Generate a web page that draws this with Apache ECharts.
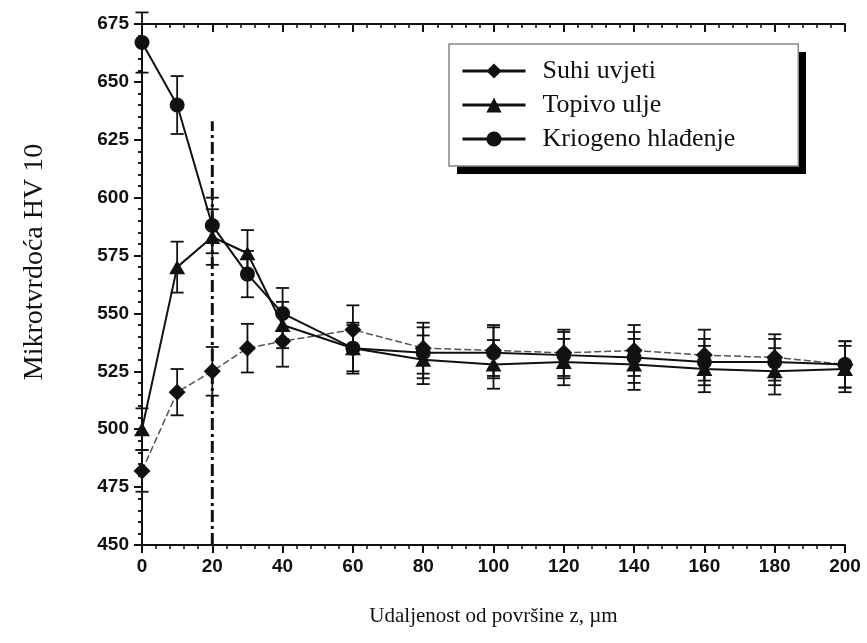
<!DOCTYPE html>
<html>
<head>
<meta charset="utf-8">
<script src="https://cdn.jsdelivr.net/npm/echarts@6/dist/echarts.min.js"></script>
<style>html,body{margin:0;padding:0;background:#fff;}#chart{width:867px;height:643px;}</style>
</head>
<body>
<div id="chart"></div>
<script>
// ---- data ----
const xValues = [0, 10, 20, 30, 40, 60, 80, 100, 120, 140, 160, 180, 200];
const seriesNames = ['Suhi uvjeti', 'Topivo ulje', 'Kriogeno hlađenje'];
const suhi = [482, 516, 525, 535, 538, 543, 535, 534, 533, 534, 532, 531, 528];
const suhiErr = [9, 10, 10.5, 10.5, 11, 10.5, 11, 11, 10, 11, 11, 10, 10];
const topivo = [500, 570, 583, 576, 545, 535, 530, 528, 529, 528, 526, 525, 526];
const topivoErr = [9, 11, 12, 10, 10, 10, 10.5, 10.5, 10, 11, 10, 10, 10];
const kriogeno = [667, 640, 588, 567, 550, 535, 533, 533, 532, 531, 529, 529, 528];
const kriogenoErr = [13, 12.5, 12, 10, 11, 11, 11, 11, 10, 11, 10, 10, 10];
const refLineX = 20;
const refLineTop = 633;
const xTitle = 'Udaljenost od površine z, µm';
const yTitle = 'Mikrotvrdoća HV 10';

const pairs = (vals) => xValues.map((x, i) => [x, vals[i]]);
const errData = (vals, errs) => xValues.map((x, i) => [x, vals[i] - errs[i], vals[i] + errs[i]]);

function errRender(params, api) {
  const x = api.value(0);
  const lo = api.coord([x, api.value(1)]);
  const hi = api.coord([x, api.value(2)]);
  const w = 6.5;
  const st = { stroke: '#111', lineWidth: 1.8 };
  return {
    type: 'group',
    children: [
      { type: 'line', shape: { x1: lo[0], y1: lo[1], x2: hi[0], y2: hi[1] }, style: st },
      { type: 'line', shape: { x1: lo[0] - w, y1: lo[1], x2: lo[0] + w, y2: lo[1] }, style: st },
      { type: 'line', shape: { x1: hi[0] - w, y1: hi[1], x2: hi[0] + w, y2: hi[1] }, style: st }
    ]
  };
}

const tickFont = { fontFamily: 'Liberation Sans', fontWeight: 'bold', fontSize: 19, color: '#111' };
const axisLine = { show: true, lineStyle: { color: '#111', width: 2 } };

const option = {
  backgroundColor: '#fff',
  animation: false,
  grid: { left: 142, right: 22, top: 24, bottom: 98, containLabel: false },
  graphic: [
    { type: 'rect', z: 1, shape: { x: 457, y: 52, width: 349, height: 122 }, style: { fill: '#000' } },
    {
      type: 'text', z: 10, x: 35, y: 262, rotation: Math.PI / 2,
      style: { text: yTitle, font: '28px "Liberation Serif"', fill: '#111', align: 'center', verticalAlign: 'middle' }
    }
  ],
  legend: {
    orient: 'vertical',
    left: 449, top: 44,
    padding: [14, 63, 14, 12],
    itemWidth: 63, itemHeight: 19, itemGap: 8,
    z: 5,
    data: seriesNames,
    textStyle: { fontFamily: 'Liberation Serif', fontSize: 26, color: '#111', padding: [0, 0, 0, 12] },
    lineStyle: { color: '#111', width: 3, type: 'solid' },
    backgroundColor: '#fff',
    borderColor: '#888', borderWidth: 1.5, borderRadius: 0
  },
  xAxis: [
    {
      type: 'value', min: 0, max: 200, interval: 20, position: 'bottom',
      name: xTitle, nameLocation: 'middle', nameGap: 61,
      nameTextStyle: { fontFamily: 'Liberation Serif', fontSize: 21, color: '#111' },
      axisLine: axisLine,
      axisTick: { show: true, inside: false, length: 8, lineStyle: { color: '#111', width: 2 } },
      minorTick: { show: true, splitNumber: 5, length: 4, lineStyle: { color: '#111', width: 1.5 } },
      axisLabel: Object.assign({ margin: 12 }, tickFont),
      splitLine: { show: false }
    },
    {
      type: 'value', min: 0, max: 200, interval: 20, position: 'top',
      axisLine: axisLine,
      axisTick: { show: true, inside: true, length: 8, lineStyle: { color: '#111', width: 2 } },
      minorTick: { show: true, splitNumber: 5, length: 4, lineStyle: { color: '#111', width: 1.5 } },
      axisLabel: { show: false },
      splitLine: { show: false }
    }
  ],
  yAxis: [
    {
      type: 'value', min: 450, max: 675, interval: 25, position: 'left',
      axisLine: axisLine,
      axisTick: { show: true, inside: false, length: 8, lineStyle: { color: '#111', width: 2 } },
      minorTick: { show: true, splitNumber: 5, length: 4, lineStyle: { color: '#111', width: 1.5 } },
      axisLabel: Object.assign({ margin: 13 }, tickFont),
      splitLine: { show: false }
    },
    {
      type: 'value', min: 450, max: 675, interval: 25, position: 'right',
      axisLine: axisLine,
      axisTick: { show: true, inside: true, length: 8, lineStyle: { color: '#111', width: 2 } },
      minorTick: { show: true, splitNumber: 5, length: 4, lineStyle: { color: '#111', width: 1.5 } },
      axisLabel: { show: false },
      splitLine: { show: false }
    }
  ],
  series: [
    {
      name: 'ref', type: 'line', data: [[refLineX, 450], [refLineX, refLineTop]],
      symbol: 'none', silent: true, z: 1,
      lineStyle: { color: '#111', width: 3, type: [12, 4, 3, 4] }
    },
    { name: 'err1', type: 'custom', renderItem: errRender, data: errData(suhi, suhiErr), z: 2, silent: true },
    { name: 'err2', type: 'custom', renderItem: errRender, data: errData(topivo, topivoErr), z: 2, silent: true },
    { name: 'err3', type: 'custom', renderItem: errRender, data: errData(kriogeno, kriogenoErr), z: 2, silent: true },
    {
      name: seriesNames[0], type: 'line', data: pairs(suhi), z: 3,
      symbol: 'diamond', symbolSize: [17, 17],
      itemStyle: { color: '#111' },
      lineStyle: { color: '#555', width: 1.5, type: [7, 3] }
    },
    {
      name: seriesNames[1], type: 'line', data: pairs(topivo), z: 4,
      symbol: 'triangle', symbolSize: [16, 14],
      itemStyle: { color: '#111' },
      lineStyle: { color: '#111', width: 2 }
    },
    {
      name: seriesNames[2], type: 'line', data: pairs(kriogeno), z: 5,
      symbol: 'circle', symbolSize: 15,
      itemStyle: { color: '#111' },
      lineStyle: { color: '#111', width: 2 }
    }
  ]
};

const chart = echarts.init(document.getElementById('chart'), null, { renderer: 'canvas' });
chart.setOption(option);
</script>
</body>
</html>
